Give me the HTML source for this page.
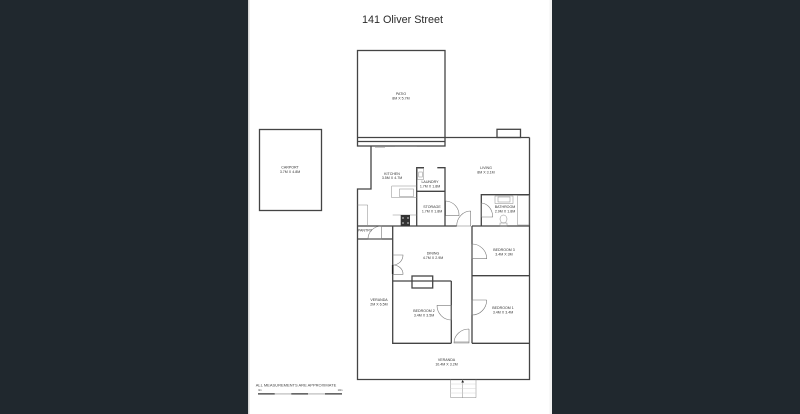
<!DOCTYPE html>
<html lang="en">
<head>
<meta charset="utf-8">
<title>141 Oliver Street</title>
<style>
html,body{margin:0;padding:0;width:800px;height:414px;overflow:hidden;background:#20282e}
svg{display:block;position:absolute;left:0;top:0}
text{font-family:"Liberation Sans",sans-serif;text-anchor:middle;fill:#333}
.l{font-size:3.6px}
.w{fill:none;stroke:#444;stroke-width:1.3}
.t{fill:none;stroke:#8a8a8a;stroke-width:.5}
.d{fill:none;stroke:#777;stroke-width:.6}
</style>
</head>
<body>
<svg width="800" height="414" viewBox="0 0 800 414" xmlns="http://www.w3.org/2000/svg">
<rect x="0" y="0" width="800" height="414" fill="#20282e"/>
<rect x="248" y="0" width="304" height="414" fill="#fff"/>
<rect x="248" y="0" width="1.500" height="414" fill="#d8d8d8"/>
<rect x="549.500" y="0" width="2.500" height="414" fill="#f3f3f3"/>
<text x="402.500" y="22.800" font-size="10.800" style="fill:#2b2b2b">141 Oliver Street</text>

<!-- Patio -->
<rect class="w" x="357.500" y="50.500" width="87.500" height="95.500"/>
<path class="w" d="M357.500 137.500H529.500M357.500 141.500H445"/>
<rect class="w" x="497" y="129.300" width="23.500" height="8.200"/>
<path d="M375 147.500H385M395 146.500H417" stroke="#999" stroke-width=".5" fill="none"/>

<!-- Carport -->
<rect class="w" x="259.500" y="129.500" width="62" height="81"/>

<!-- Outer walls -->
<path class="w" d="M371 146V189H357.500V379.500H529.500V137.500"/>
<!-- Interior walls -->
<path class="w" d="M357.500 226H456.700M472 226H529.500M357.500 239H392.700M392.700 226V343.300H451.300M472 226V343.300M451.300 281V343.300M392.700 281H451.300M472 275.700H529.500M472 343.300H529.500"/>
<path class="w" d="M416.700 226V167.700H424M437.300 167.700H445V226M416.700 191.300H445M481.300 226V194.700H529.500"/>
<rect class="w" x="412" y="276" width="20.700" height="12"/>

<!-- Kitchen fittings -->
<path class="t" d="M416.700 186H391.700V197.700H416.700"/>
<rect class="t" x="399.500" y="189" width="14" height="7.500"/>
<path class="t" d="M357.500 205H367.700V226"/>
<path class="t" d="M392.700 215H416.700"/>
<rect x="400.700" y="215" width="9.300" height="11" fill="#333"/>
<circle cx="403" cy="218" r="1" fill="#999"/><circle cx="408" cy="218" r="1" fill="#999"/>
<circle cx="403" cy="223" r="1" fill="#999"/><circle cx="408" cy="223" r="1" fill="#999"/>
<!-- Laundry sink -->
<rect class="t" x="417.500" y="168.500" width="6" height="11"/>
<rect class="t" x="418.800" y="172" width="3.500" height="5"/>

<!-- Bathroom fittings -->
<rect class="t" x="495" y="196" width="18" height="7.500"/>
<rect class="t" x="498" y="197" width="12" height="5"/>
<rect class="t" x="517.700" y="195.500" width="11.300" height="29.500"/>
<ellipse class="t" cx="503.500" cy="219" rx="3.500" ry="4"/>
<rect class="t" x="500" y="223" width="7" height="3"/>

<!-- Doors -->
<path class="d" d="M445.700 201V215.700H459A14 14 0 0 0 445.700 201"/>
<path class="d" d="M470.700 211V226H456.700A14 15 0 0 1 470.700 211"/>
<path class="d" d="M481.300 203V217H492.700A12 14 0 0 0 481.300 203"/>
<path class="d" d="M472 244V258.700H486.700A14.700 14.700 0 0 0 472 244"/>
<path class="d" d="M486.700 300H472V315A14.700 15 0 0 0 486.700 300"/>
<path class="d" d="M437 305.300H451.300V320A14.300 14.700 0 0 1 437 305.300"/>
<path class="d" d="M469 329V343H454A15 14 0 0 1 469 329"/>
<path class="d" d="M454 342H469" stroke-width="1"/>
<path class="d" d="M381.700 226V239H368A13.700 13 0 0 1 381.700 226"/>
<path class="d" d="M392.700 255H403A10 10 0 0 1 392.700 265M392.700 274.300H403A10 9 0 0 0 392.700 265"/>
<path d="M392.700 265V274" stroke="#222" stroke-width="1.600" fill="none"/>

<!-- Stairs -->
<path class="t" d="M450.700 379.500V397.700H476V379.500M462.700 379.500V397.700" stroke="#777"/>
<path d="M450.700 384H476M450.700 388.500H476M450.700 393H476" stroke="#ccc" stroke-width=".4" fill="none"/>
<path d="M461.300 382.500L462.700 380L464.100 382.500Z" fill="#222"/>

<!-- Labels -->
<text class="l" x="401" y="95">PATIO</text><text class="l" x="401" y="99.500">8M X 5.7M</text>
<text class="l" x="290" y="168.500">CARPORT</text><text class="l" x="290" y="173">3.7M X 4.8M</text>
<text class="l" x="392" y="175">KITCHEN</text><text class="l" x="392" y="179">3.5M X 4.7M</text>
<text class="l" x="486" y="169">LIVING</text><text class="l" x="486" y="173.500">8M X 3.1M</text>
<text class="l" x="430" y="183">LAUNDRY</text><text class="l" x="430" y="187.500">1.7M X 1.8M</text>
<text class="l" x="432" y="208">STORAGE</text><text class="l" x="432" y="212.500">1.7M X 1.8M</text>
<text class="l" x="505" y="208">BATHROOM</text><text class="l" x="505" y="212.500">2.9M X 1.8M</text>
<text class="l" x="365" y="231.500">PANTRY</text>
<text class="l" x="433" y="254.500">DINING</text><text class="l" x="433" y="259">4.7M X 2.9M</text>
<text class="l" x="504" y="251">BEDROOM 3</text><text class="l" x="504" y="255.500">3.4M X 3M</text>
<text class="l" x="379" y="301">VERANDA</text><text class="l" x="379" y="305.500">2M X 6.5M</text>
<text class="l" x="424" y="312">BEDROOM 2</text><text class="l" x="424" y="316.500">3.4M X 3.5M</text>
<text class="l" x="503" y="309">BEDROOM 1</text><text class="l" x="503" y="313.500">3.4M X 3.4M</text>
<text class="l" x="446.500" y="361">VERANDA</text><text class="l" x="446.500" y="365.500">10.4M X 3.2M</text>

<!-- Scale -->
<text x="296" y="386.500" font-size="4" style="fill:#444">ALL MEASUREMENTS ARE APPROXIMATE</text>
<text x="260" y="391" font-size="2.500">0m</text>
<text x="340" y="391" font-size="2.500">10m</text>
<rect x="258" y="393.300" width="84" height="1.200" fill="#bbb"/>
<rect x="258" y="393.300" width="16.700" height="1.200" fill="#333"/>
<rect x="291.300" y="393.300" width="16.700" height="1.200" fill="#333"/>
<rect x="325" y="393.300" width="17" height="1.200" fill="#333"/>
</svg>
</body>
</html>
